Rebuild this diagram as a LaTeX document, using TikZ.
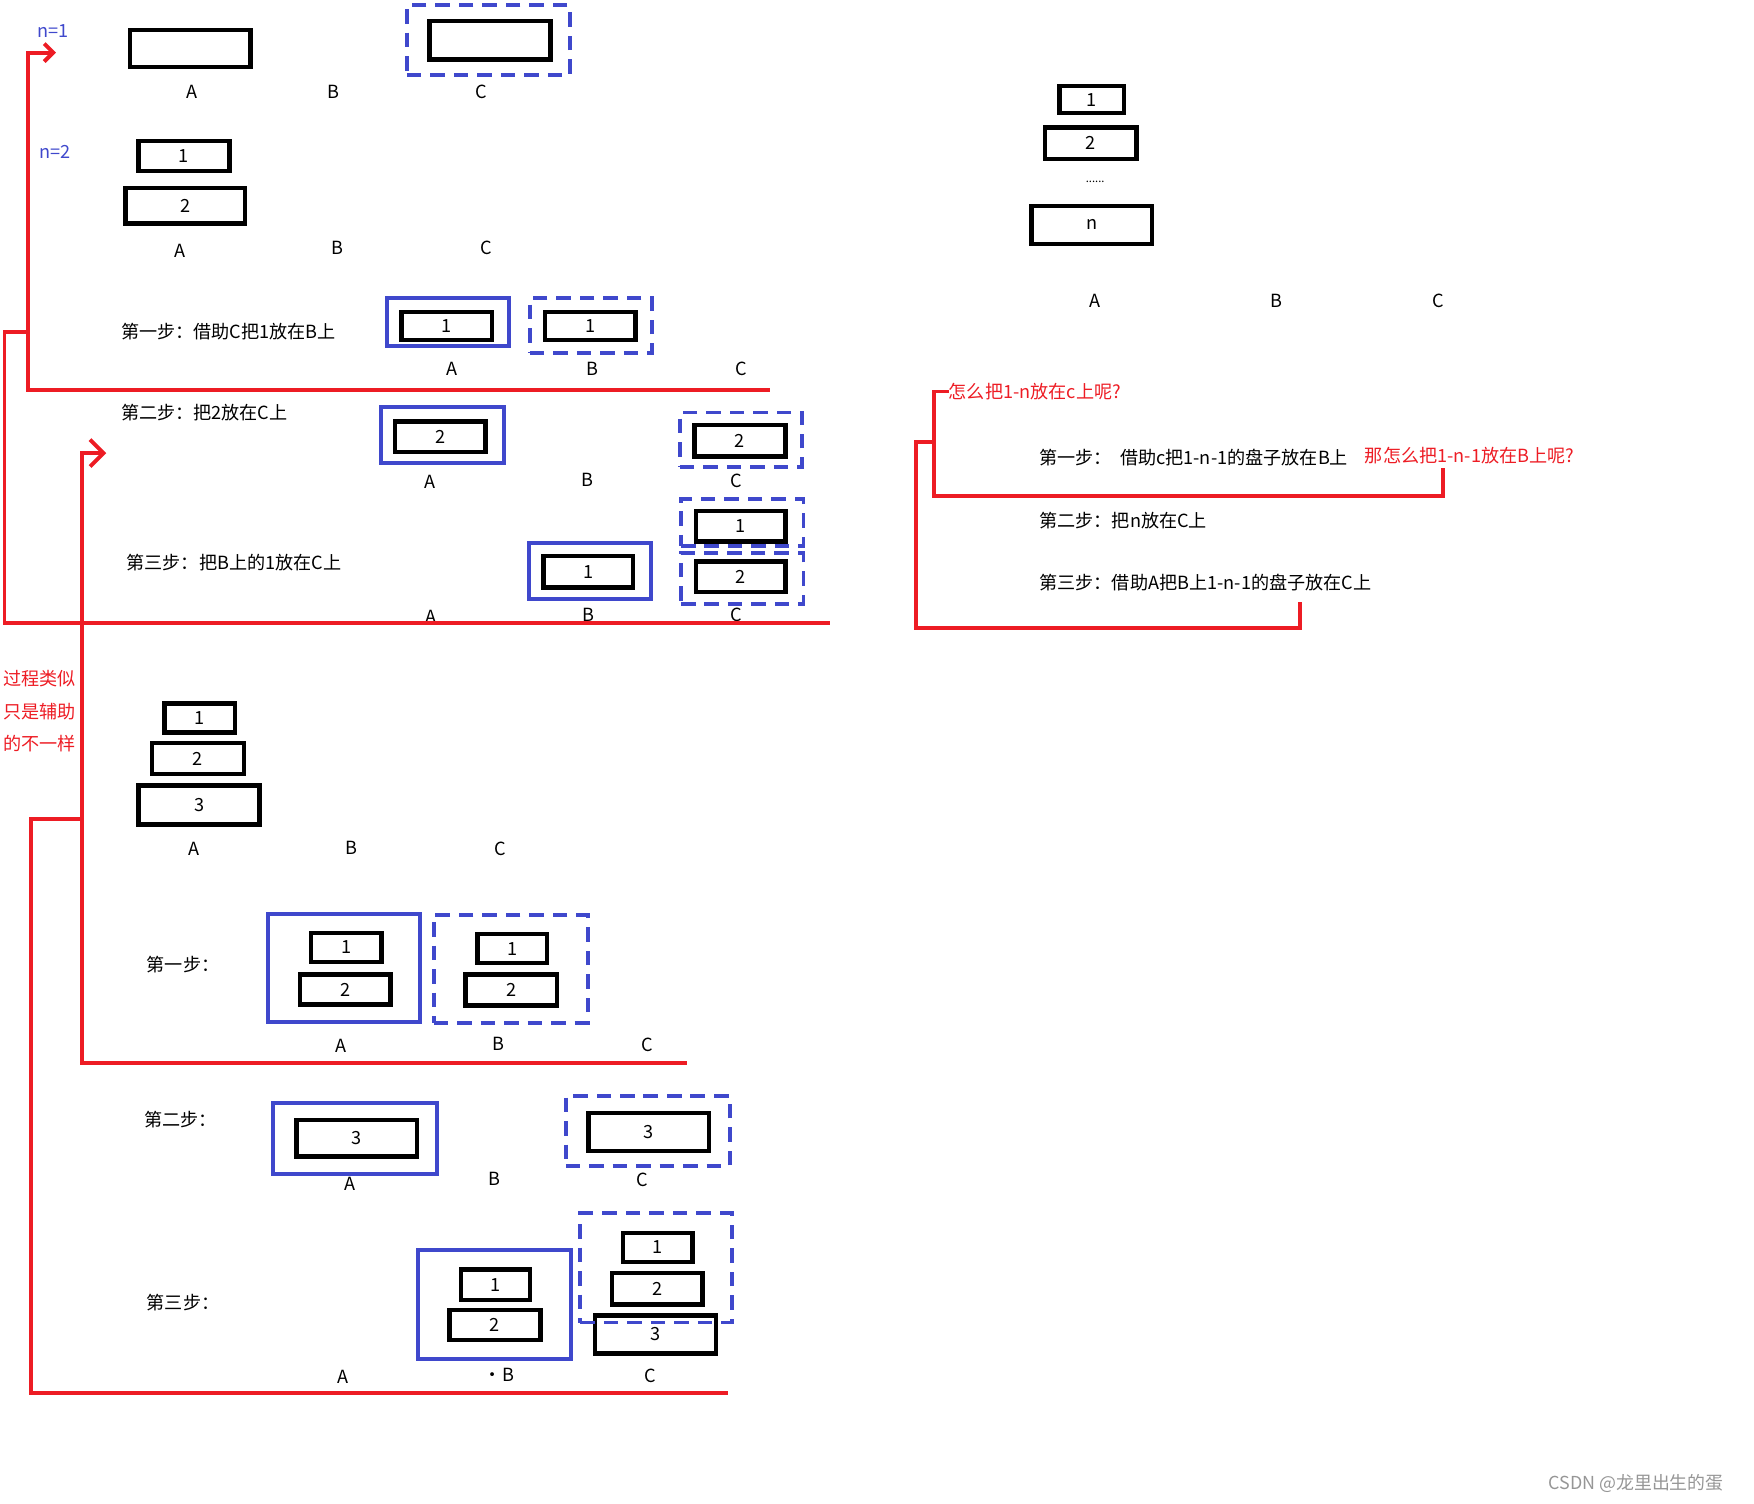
\documentclass[tikz,border=0pt]{standalone}
\usepackage{fontspec}
\setmainfont{Noto Sans CJK SC}
\usetikzlibrary{arrows.meta}
\definecolor{penblue}{RGB}{63,72,204}
\definecolor{penred}{RGB}{237,28,36}
\definecolor{markgray}{RGB}{150,150,150}

\begin{document}
\begin{tikzpicture}[x=1pt,y=-1pt,
  every node/.append style={font=\fontsize{16.2pt}{19pt}\selectfont},
  disk/.style={draw, line width=4pt, inner sep=0pt},
  pegbox/.style={draw=penblue, line width=3.5pt, inner sep=0pt},
  movebox/.style={pegbox, dash pattern=on 13pt off 8pt},
  redline/.style={draw=penred, line width=3.5pt},
  lbl/.style={inner sep=0pt}]
\useasboundingbox (0,0) rectangle (1568,1344);

% n=1
\node[lbl, anchor=west, text=penblue] (nOne) at (33,28) {n=1};
\node[disk, minimum width=108pt, minimum height=33pt] (oneA) at (170,43.5) {};
\node[disk, minimum width=108pt, minimum height=34pt] (oneC) at (438,36) {};
\node[movebox, minimum width=145.5pt, minimum height=62.5pt] (oneCbox) at (436.5,36) {};
\node[lbl] (oneLA) at (172,82) {A};
\node[lbl] (oneLB) at (298,82) {B};
\node[lbl] (oneLC) at (430,82) {C};

% n=2
\node[lbl, anchor=west, text=penblue] (nTwo) at (35,136) {n=2};
\node[disk, minimum width=81pt, minimum height=27pt] (twoA1) at (164.5,139.5) {1};
\node[disk, minimum width=107pt, minimum height=32pt] (twoA2) at (165.5,184) {2};
\node[lbl] (twoLA) at (161,224) {A};
\node[lbl] (twoLB) at (302,222) {B};
\node[lbl] (twoLC) at (435,222) {C};

% step 1
\node[lbl, anchor=west] (stepOne) at (108,296) {第一步：借助C把1放在B上};
\node[disk, minimum width=81pt, minimum height=25pt] (sOneA1) at (399.5,291.5) {1};
\node[pegbox, minimum width=109.5pt, minimum height=42.5pt] (sOneAbox) at (400.5,288) {};
\node[disk, minimum width=81pt, minimum height=25pt] (sOneB1) at (527.5,291.5) {1};
\node[movebox, minimum width=109.5pt, minimum height=48.5pt] (sOneBbox) at (528.5,291) {};
\node[lbl] (sOneLA) at (404,330) {A};
\node[lbl] (sOneLB) at (530,330) {B};
\node[lbl] (sOneLC) at (663,330) {C};

% step 2
\node[lbl, anchor=west] (stepTwo) at (108,369) {第二步：把2放在C上};
\node[disk, minimum width=81pt, minimum height=27pt] (sTwoA2) at (393.5,390.5) {2};
\node[pegbox, minimum width=109.5pt, minimum height=50.5pt] (sTwoAbox) at (395.5,389) {};
\node[disk, minimum width=81pt, minimum height=28pt] (sTwoC2) at (661.5,394) {2};
\node[movebox, minimum width=109.5pt, minimum height=48.5pt] (sTwoCbox) at (662.5,393) {};
\node[lbl] (sTwoLA) at (384,431) {A};
\node[lbl] (sTwoLB) at (525,429) {B};
\node[lbl] (sTwoLC) at (658,430) {C};

% step 3
\node[lbl, anchor=west] (stepThree) at (113,503) {第三步：把B上的1放在C上};
\node[disk, minimum width=80pt, minimum height=28pt] (sThrB1) at (526,511) {1};
\node[pegbox, minimum width=109.5pt, minimum height=49.5pt] (sThrBbox) at (527.5,510.5) {};
\node[disk, minimum width=80pt, minimum height=27pt] (sThrC1) at (662,470.5) {1};
\node[disk, minimum width=80pt, minimum height=27pt] (sThrC2) at (662,515.5) {2};
\node[movebox, minimum width=109.5pt, minimum height=42.5pt] (sThrCtop) at (663.5,467) {};
\node[movebox, minimum width=109.5pt, minimum height=45.5pt] (sThrCbot) at (663.5,517.5) {};
\node[lbl] (sThrLA) at (385,551) {A};
\node[lbl] (sThrLB) at (526,550) {B};
\node[lbl] (sThrLC) at (658,550) {C};

% general n
\node[disk, minimum width=58pt, minimum height=24pt] (genA1) at (976,89) {1};
\node[disk, minimum width=82pt, minimum height=28pt] (genA2) at (975,128) {2};
\node[lbl, font=\fontsize{10pt}{11pt}\selectfont] (genDots) at (979,163) {......};
\node[disk, minimum width=108pt, minimum height=34pt] (genAn) at (976,201) {n};
\node[lbl] (genLA) at (979,269) {A};
\node[lbl] (genLB) at (1141,269) {B};
\node[lbl] (genLC) at (1286,269) {C};
\node[lbl, anchor=west, text=penred] (askAll) at (848,350) {怎么把1-n放在c上呢?};
\node[lbl, anchor=west] (genOne) at (929,409) {第一步：\ \ 借助c把1-n-1的盘子放在B上};
\node[lbl, anchor=west, text=penred] (askSub) at (1220,407) {那怎么把1-n-1放在B上呢?};
\node[lbl, anchor=west] (genTwo) at (929,465) {第二步：把n放在C上};
\node[lbl, anchor=west] (genThree) at (929,521) {第三步：借助A把B上1-n-1的盘子放在C上};

% n=3
\node[lbl, anchor=west, text=penred] (likeA) at (3,607) {过程类似};
\node[lbl, anchor=west, text=penred] (likeB) at (3,636) {只是辅助};
\node[lbl, anchor=west, text=penred] (likeC) at (3,665) {的不一样};
\node[disk, minimum width=63pt, minimum height=26pt] (thrA1) at (178.5,642) {1};
\node[disk, minimum width=82pt, minimum height=28pt] (thrA2) at (177,678) {2};
\node[disk, minimum width=108pt, minimum height=35pt] (thrA3) at (178,719.5) {3};
\node[lbl] (thrLA) at (173,759) {A};
\node[lbl] (thrLB) at (314,758) {B};
\node[lbl] (thrLC) at (447,759) {C};

% n=3, step 1
\node[lbl, anchor=west] (tOne) at (131,862) {第一步：};
\node[disk, minimum width=63pt, minimum height=26pt] (tOneA1) at (309.5,847) {1};
\node[disk, minimum width=81pt, minimum height=27pt] (tOneA2) at (308.5,884.5) {2};
\node[pegbox, minimum width=135.5pt, minimum height=96.5pt] (tOneAbox) at (307.5,865) {};
\node[disk, minimum width=62pt, minimum height=26pt] (tOneB1) at (458,848) {1};
\node[disk, minimum width=82pt, minimum height=28pt] (tOneB2) at (457,885) {2};
\node[movebox, minimum width=137.5pt, minimum height=96.5pt] (tOneBbox) at (456.5,866) {};
\node[lbl] (tOneLA) at (305,935) {A};
\node[lbl] (tOneLB) at (446,933) {B};
\node[lbl] (tOneLC) at (579,934) {C};

% n=3, step 2
\node[lbl, anchor=west] (tTwo) at (129,1001) {第二步：};
\node[disk, minimum width=108pt, minimum height=33pt] (tTwoA3) at (319,1017.5) {3};
\node[pegbox, minimum width=146.5pt, minimum height=63.5pt] (tTwoAbox) at (317,1017.5) {};
\node[disk, minimum width=108pt, minimum height=34pt] (tTwoC3) at (580,1012) {3};
\node[movebox, minimum width=146.5pt, minimum height=62.5pt] (tTwoCbox) at (579,1011) {};
\node[lbl] (tTwoLA) at (313,1058) {A};
\node[lbl] (tTwoLB) at (442,1054) {B};
\node[lbl] (tTwoLC) at (574,1055) {C};

% n=3, step 3
\node[lbl, anchor=west] (tThr) at (131,1164) {第三步：};
\node[disk, minimum width=62pt, minimum height=27pt] (tThrB1) at (443,1148.5) {1};
\node[disk, minimum width=81pt, minimum height=27pt] (tThrB2) at (442.5,1184.5) {2};
\node[pegbox, minimum width=136.5pt, minimum height=97.5pt] (tThrBbox) at (442,1166.5) {};
\node[disk, minimum width=62pt, minimum height=26pt] (tThrC1) at (588,1115) {1};
\node[disk, minimum width=81pt, minimum height=28pt] (tThrC2) at (587.5,1152) {2};
\node[disk, minimum width=108pt, minimum height=34pt] (tThrC3) at (586,1193) {3};
\node[movebox, minimum width=135.5pt, minimum height=97.5pt] (tThrCbox) at (586.5,1133.5) {};
\node[lbl] (tThrLA) at (307,1231) {A};
\node[lbl] (tThrLB) at (446,1229) {·B};
\node[lbl] (tThrLC) at (581,1230) {C};

% red brackets
\coordinate (topTurn) at (25,47);
\coordinate (topTip) at (50,47);
\coordinate (topEnd) at (688,349);
\draw[redline, -{Straight Barb[length=8pt,width=16pt]}] (topEnd) -| (topTurn) -- (topTip);
\coordinate (outJoin) at (25,297);
\coordinate (outCorner) at (4,297);
\coordinate (outEnd) at (742,557);
\draw[redline] (outJoin) -- (outCorner) |- (outEnd);

\coordinate (midTurn) at (73,405);
\coordinate (midTip) at (95,405);
\coordinate (midEnd) at (614,950);
\draw[redline, -{Straight Barb[length=12pt,width=24pt]}] (midEnd) -| (midTurn) -- (midTip);
\coordinate (lowJoin) at (73,732);
\coordinate (lowCorner) at (28,732);
\coordinate (lowEnd) at (651,1245);
\draw[redline] (lowJoin) -- (lowCorner) |- (lowEnd);

\coordinate (askCorner) at (835,350);
\coordinate (askLow) at (1290,443);
\coordinate (askEnd) at (1290,418);
\draw[redline] (askAll.west) -- (askCorner) |- (askLow) -- (askEnd);
\coordinate (allJoin) at (835,395);
\coordinate (allCorner) at (819,395);
\coordinate (allLow) at (1162,561);
\coordinate (allEnd) at (1162,538);
\draw[redline] (allJoin) -- (allCorner) |- (allLow) -- (allEnd);

\node[lbl, anchor=west, text=markgray, font=\fontsize{16pt}{18pt}\selectfont] (mark) at (1384,1326) {CSDN @龙里出生的蛋};
\end{tikzpicture}
\end{document}
